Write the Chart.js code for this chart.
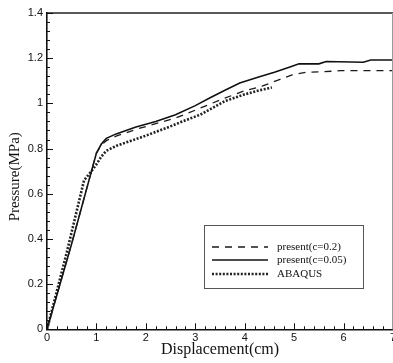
<!DOCTYPE html>
<html>
<head>
<meta charset="utf-8">
<script src="https://cdn.jsdelivr.net/npm/chart.js@4.4.0/dist/chart.umd.min.js"></script>
<style>
  html, body { margin: 0; padding: 0; background: #fff; }
  canvas { display: block; }
</style>
</head>
<body>
<canvas id="chart" width="393" height="363"></canvas>
<script>
// present(c=0.2) - dashed
const dispC02 = [0, 0.5, 0.9, 1.0, 1.1, 1.2, 1.4, 1.8, 2.2, 2.6, 3.0, 3.5, 4.0, 4.35, 4.7, 4.96, 5.26, 5.6, 5.94, 7.0];
const presC02 = [0, 0.38, 0.70, 0.78, 0.815, 0.835, 0.855, 0.885, 0.91, 0.935, 0.97, 1.015, 1.056, 1.076, 1.105, 1.126, 1.138, 1.14, 1.145, 1.145];

// present(c=0.05) - solid
const dispC005 = [0, 0.5, 0.9, 1.0, 1.1, 1.2, 1.4, 1.8, 2.2, 2.6, 3.0, 3.3, 3.6, 3.9, 4.25, 4.6, 4.9, 5.1, 5.5, 5.65, 6.4, 6.55, 7.0];
const presC005 = [0, 0.38, 0.70, 0.78, 0.82, 0.845, 0.865, 0.895, 0.92, 0.95, 0.99, 1.025, 1.058, 1.09, 1.115, 1.138, 1.16, 1.175, 1.175, 1.185, 1.182, 1.192, 1.192];

// ABAQUS - dotted
const dispAbaqus = [0, 0.4, 0.75, 0.9, 1.0, 1.1, 1.2, 1.4, 1.6, 2.0, 2.4, 2.8, 3.1, 3.6, 4.0, 4.3, 4.55];
const presAbaqus = [0, 0.34, 0.66, 0.70, 0.73, 0.765, 0.79, 0.812, 0.827, 0.857, 0.89, 0.925, 0.95, 1.01, 1.04, 1.058, 1.07];

const seriesLabels = ['present(c=0.2)', 'present(c=0.05)', 'ABAQUS'];
const xTicks = [0, 1, 2, 3, 4, 5, 6, 7];
const yTicks = [0, 0.2, 0.4, 0.6, 0.8, 1, 1.2, 1.4];
const xMinorStep = 0.2;
const yMinorStep = 0.04;

const ink = '#111';
const tickFont = { family: 'Liberation Sans', size: 11 };
const titleFont = { family: 'Liberation Serif', size: 16 };

const toPoints = (xs, ys) => xs.map((x, i) => ({ x: x, y: ys[i] }));

// inward ticks, top/right frame and the boxed legend
const framePlugin = {
    id: 'frame',
    afterDraw(chart) {
        const ctx = chart.ctx;
        const xs = chart.scales.x;
        const ys = chart.scales.y;
        const area = chart.chartArea;
        ctx.save();

        // top border at 1.4, faint right border at 7
        ctx.strokeStyle = '#222';
        ctx.lineWidth = 1.6;
        ctx.beginPath();
        ctx.moveTo(area.left, ys.getPixelForValue(1.4));
        ctx.lineTo(area.right, ys.getPixelForValue(1.4));
        ctx.stroke();
        ctx.strokeStyle = '#999';
        ctx.lineWidth = 1;
        ctx.beginPath();
        ctx.moveTo(xs.getPixelForValue(7) - 0.5, area.top);
        ctx.lineTo(xs.getPixelForValue(7) - 0.5, area.bottom);
        ctx.stroke();

        // ticks pointing into the plot
        ctx.strokeStyle = ink;
        ctx.lineWidth = 1;
        ctx.beginPath();
        for (let v = 0; v <= 7.001; v += xMinorStep) {
            const px = Math.round(xs.getPixelForValue(v)) + 0.5;
            const major = Math.abs(v - Math.round(v)) < 1e-6;
            ctx.moveTo(px, area.bottom);
            ctx.lineTo(px, area.bottom - (major ? 6 : 3));
        }
        for (let v = 0; v <= 1.4001; v += yMinorStep) {
            const py = Math.round(ys.getPixelForValue(v)) + 0.5;
            const major = Math.abs(v / 0.2 - Math.round(v / 0.2)) < 1e-6;
            ctx.moveTo(area.left, py);
            ctx.lineTo(area.left + (major ? 6 : 3), py);
        }
        ctx.stroke();

        // legend box
        const bx = area.left + 157;
        const by = area.top + 212;
        const bw = 159;
        const bh = 63;
        ctx.strokeStyle = '#555';
        ctx.lineWidth = 1;
        ctx.strokeRect(bx + 0.5, by + 0.5, bw, bh);

        const rows = [22, 35, 49];
        ctx.font = '11px "Liberation Serif"';
        ctx.fillStyle = ink;
        ctx.textBaseline = 'middle';
        chart.data.datasets.forEach((ds, i) => {
            const ly = by + rows[i];
            ctx.strokeStyle = ds.borderColor;
            ctx.lineWidth = ds.borderWidth;
            ctx.setLineDash(ds.borderDash || []);
            ctx.beginPath();
            ctx.moveTo(bx + 8, ly);
            ctx.lineTo(bx + 64, ly);
            ctx.stroke();
            ctx.setLineDash([]);
            ctx.fillText(ds.label, bx + 73, ly);
        });
        ctx.restore();
    }
};

const ctx = document.getElementById('chart').getContext('2d');
new Chart(ctx, {
    type: 'line',
    data: {
        datasets: [
            {
                label: seriesLabels[0],
                data: toPoints(dispC02, presC02),
                borderColor: '#1a1a1a',
                borderWidth: 1.3,
                borderDash: [7, 6],
                pointRadius: 0,
                tension: 0
            },
            {
                label: seriesLabels[1],
                data: toPoints(dispC005, presC005),
                borderColor: '#111',
                borderWidth: 1.6,
                pointRadius: 0,
                tension: 0
            },
            {
                label: seriesLabels[2],
                data: toPoints(dispAbaqus, presAbaqus),
                borderColor: '#222',
                borderWidth: 2.6,
                borderDash: [2, 1.6],
                pointRadius: 0,
                tension: 0
            }
        ]
    },
    options: {
        responsive: false,
        animation: false,
        devicePixelRatio: 1,
        layout: { padding: { top: 13, left: 0, right: 0, bottom: 0 } },
        plugins: {
            legend: { display: false },
            tooltip: { enabled: false }
        },
        scales: {
            x: {
                type: 'linear',
                min: 0,
                max: 7,
                afterBuildTicks: scale => { scale.ticks = xTicks.map(v => ({ value: v })); },
                afterFit: scale => {
                    scale.height = 33.7;
                    scale.paddingLeft = 0;
                    scale.paddingRight = 0;
                },
                grid: { display: false, drawTicks: false },
                border: { display: true, color: ink, width: 1.6 },
                ticks: { font: tickFont, color: ink, padding: 2, maxRotation: 0, autoSkip: false },
                title: {
                    display: true,
                    text: 'Displacement(cm)',
                    font: titleFont,
                    color: ink,
                    padding: { top: 0, bottom: 3.5 }
                }
            },
            y: {
                type: 'linear',
                min: 0,
                max: 1.4,
                afterBuildTicks: scale => { scale.ticks = yTicks.map(v => ({ value: v })); },
                afterFit: scale => {
                    scale.width = 47;
                    scale.paddingTop = 0;
                    scale.paddingBottom = 0;
                },
                grid: { display: false, drawTicks: false },
                border: { display: true, color: ink, width: 1.6 },
                ticks: {
                    font: tickFont,
                    color: ink,
                    padding: 4,
                    autoSkip: false,
                    callback: v => String(Math.round(v * 10) / 10)
                },
                title: {
                    display: true,
                    // trailing spaces nudge the centred title a little upward, as in the original
                    text: 'Pressure(MPa)   ',
                    font: { family: 'Liberation Serif', size: 15 },
                    color: ink,
                    padding: { top: 6, bottom: 0 }
                }
            }
        }
    },
    plugins: [framePlugin]
});
</script>
</body>
</html>
